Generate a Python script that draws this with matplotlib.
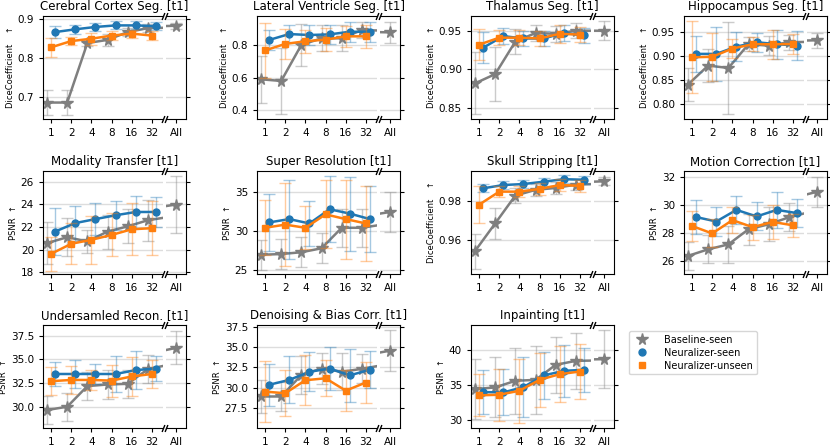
#Few-shot results figure: baseline vs neuralizer on several tasks
import matplotlib
matplotlib.use('Agg')
import matplotlib.pyplot as plt
from matplotlib.lines import Line2D
import numpy as np

shots = [1, 2, 4, 8, 16, 32]
shot_labels = ['1', '2', '4', '8', '16', '32']
n_all = 1024  # nominal size used for the "All" column

# each *_base list has the 6 shot values + the "All" value at the end
# Cerebral Cortex Seg.
cc_base = [0.686, 0.686, 0.838, 0.846, 0.866, 0.876, 0.882]
cc_base_err = [0.032, 0.031, 0.008, 0.015, 0.01, 0.01, 0.008]
cc_seen = [0.866, 0.873, 0.879, 0.883, 0.883, 0.881]
cc_seen_err = [0.015, 0.012, 0.01, 0.01, 0.01, 0.01]
cc_unseen = [0.827, 0.843, 0.849, 0.857, 0.862, 0.857]
cc_unseen_err = [0.025, 0.01, 0.015, 0.012, 0.01, 0.012]

# Lateral Ventricle Seg.
lv_base = [0.59, 0.58, 0.80, 0.84, 0.84, 0.89, 0.876]
lv_base_err = [0.143, 0.20, 0.126, 0.08, 0.08, 0.05, 0.063]
lv_seen = [0.83, 0.866, 0.86, 0.864, 0.88, 0.88]
lv_seen_err = [0.06, 0.056, 0.06, 0.06, 0.06, 0.06]
lv_unseen = [0.766, 0.806, 0.822, 0.832, 0.852, 0.852]
lv_unseen_err = [0.167, 0.09, 0.07, 0.07, 0.065, 0.07]

# Thalamus Seg.
th_base = [0.882, 0.894, 0.936, 0.947, 0.946, 0.95, 0.95]
th_base_err = [0.04, 0.035, 0.016, 0.01, 0.01, 0.01, 0.012]
th_seen = [0.928, 0.943, 0.940, 0.940, 0.947, 0.944]
th_seen_err = [0.02, 0.01, 0.01, 0.01, 0.01, 0.01]
th_unseen = [0.932, 0.941, 0.941, 0.940, 0.946, 0.945]
th_unseen_err = [0.02, 0.01, 0.01, 0.01, 0.012, 0.01]

# Hippocampus Seg.
hc_base = [0.841, 0.880, 0.875, 0.924, 0.921, 0.928, 0.932]
hc_base_err = [0.033, 0.034, 0.095, 0.015, 0.02, 0.015, 0.015]
hc_seen = [0.904, 0.904, 0.919, 0.928, 0.924, 0.921]
hc_seen_err = [0.037, 0.055, 0.03, 0.02, 0.03, 0.03]
hc_unseen = [0.897, 0.898, 0.915, 0.924, 0.924, 0.924]
hc_unseen_err = [0.074, 0.05, 0.02, 0.015, 0.03, 0.02]

# Modality Transfer
mt_base = [20.58, 21.1, 20.73, 21.6, 22.06, 22.6, 23.99]
mt_base_err = [1.85, 1.7, 1.0, 1.5, 1.5, 1.8, 2.55]
mt_seen = [21.6, 22.35, 22.7, 23.04, 23.33, 23.33]
mt_seen_err = [2.1, 1.55, 1.4, 1.3, 1.4, 1.35]
mt_unseen = [19.63, 20.52, 20.87, 21.3, 21.8, 21.9]
mt_unseen_err = [1.5, 1.8, 2.1, 1.9, 2.3, 2.4]

# Super Resolution
sr_base = [26.98, 27.07, 27.3, 27.8, 30.4, 30.4, 32.4]
sr_base_err = [1.9, 1.9, 1.9, 1.9, 2.4, 2.4, 2.5]
sr_seen = [31.08, 31.5, 30.95, 32.75, 32.2, 31.5]
sr_seen_err = [3.6, 5.0, 2.8, 4.2, 4.7, 4.2]
sr_unseen = [30.4, 30.8, 30.4, 32.1, 31.5, 30.95]
sr_unseen_err = [3.5, 5.3, 2.7, 4.3, 5.0, 4.75]

# Skull Stripping
ss_base = [0.9545, 0.9687, 0.983, 0.9859, 0.9869, 0.9886, 0.9903]
ss_base_err = [0.009, 0.008, 0.004, 0.003, 0.003, 0.003, 0.002]
ss_seen = [0.9867, 0.9884, 0.9889, 0.9901, 0.9914, 0.9911]
ss_seen_err = [0.002, 0.002, 0.002, 0.002, 0.002, 0.002]
ss_unseen = [0.9783, 0.985, 0.985, 0.9864, 0.9884, 0.988]
ss_unseen_err = [0.0095, 0.003, 0.003, 0.003, 0.003, 0.003]

# Motion Correction
mc_base = [26.35, 26.82, 27.17, 28.25, 28.6, 29.1, 30.92]
mc_base_err = [1.0, 1.0, 1.3, 1.1, 1.2, 1.0, 1.05]
mc_seen = [29.12, 28.8, 29.63, 29.16, 29.63, 29.4]
mc_seen_err = [1.2, 1.0, 1.0, 1.0, 1.3, 1.0]
mc_unseen = [28.48, 27.95, 28.9, 28.4, 28.77, 28.53]
mc_unseen_err = [1.1, 1.0, 0.9, 0.9, 1.2, 0.8]

# Undersampled Recon.
ur_base = [29.65, 30.0, 32.18, 32.35, 32.42, 33.97, 36.22]
ur_base_err = [1.5, 1.5, 1.5, 1.5, 1.5, 1.5, 1.75]
ur_seen = [33.46, 33.46, 33.46, 33.46, 33.87, 34.04]
ur_seen_err = [1.3, 1.5, 1.1, 1.9, 2.0, 1.3]
ur_unseen = [32.7, 32.83, 32.83, 32.76, 33.2, 33.46]
ur_unseen_err = [1.5, 1.5, 1.1, 1.7, 2.1, 1.5]

# Denoising & Bias Corr.
db_base = [28.9, 28.9, 31.54, 32.34, 31.94, 32.3, 34.54]
db_base_err = [2.0, 1.8, 2.3, 1.9, 2.3, 1.8, 2.5]
db_seen = [30.34, 30.94, 31.94, 32.34, 31.5, 32.2]
db_seen_err = [2.6, 2.9, 2.4, 2.7, 3.3, 2.3]
db_unseen = [29.5, 29.3, 30.9, 31.14, 29.62, 30.62]
db_unseen_err = [3.75, 2.8, 3.1, 2.2, 2.5, 2.5]

# Inpainting
ip_base = [34.38, 34.62, 35.57, 35.7, 37.86, 38.43, 38.67]
ip_base_err = [4.3, 4.3, 4.7, 4.9, 4.0, 4.0, 4.2]
ip_seen = [33.95, 33.9, 34.67, 36.33, 37.0, 37.14]
ip_seen_err = [3.1, 3.3, 4.3, 3.3, 3.7, 3.2]
ip_unseen = [33.48, 33.57, 34.14, 35.71, 36.52, 36.9]
ip_unseen_err = [3.0, 3.7, 4.6, 3.9, 4.0, 3.9]

DICE = 'DiceCoefficient    \u2191'
PSNR = 'PSNR  \u2191'

panels = [
    ('Cerebral Cortex Seg. [t1]', DICE, cc_base, cc_base_err, cc_seen, cc_seen_err, cc_unseen, cc_unseen_err, (0.644, 0.907), [0.7, 0.8, 0.9]),
    ('Lateral Ventricle Seg. [t1]', DICE, lv_base, lv_base_err, lv_seen, lv_seen_err, lv_unseen, lv_unseen_err, (0.348, 0.976), [0.4, 0.6, 0.8]),
    ('Thalamus Seg. [t1]', DICE, th_base, th_base_err, th_seen, th_seen_err, th_unseen, th_unseen_err, (0.836, 0.969), [0.85, 0.90, 0.95]),
    ('Hippocampus Seg. [t1]', DICE, hc_base, hc_base_err, hc_seen, hc_seen_err, hc_unseen, hc_unseen_err, (0.770, 0.982), [0.80, 0.85, 0.90, 0.95]),
    ('Modality Transfer [t1]', PSNR, mt_base, mt_base_err, mt_seen, mt_seen_err, mt_unseen, mt_unseen_err, (17.85, 26.95), [18, 20, 22, 24, 26]),
    ('Super Resolution [t1]', PSNR, sr_base, sr_base_err, sr_seen, sr_seen_err, sr_unseen, sr_unseen_err, (24.54, 37.6), [25, 30, 35]),
    ('Skull Stripping [t1]', DICE, ss_base, ss_base_err, ss_seen, ss_seen_err, ss_unseen, ss_unseen_err, (0.9427, 0.9956), [0.96, 0.98]),
    ('Motion Correction [t1]', PSNR, mc_base, mc_base_err, mc_seen, mc_seen_err, mc_unseen, mc_unseen_err, (25.06, 32.4), [26, 28, 30, 32]),
    ('Undersamled Recon. [t1]', PSNR, ur_base, ur_base_err, ur_seen, ur_seen_err, ur_unseen, ur_unseen_err, (27.75, 38.64), [30.0, 32.5, 35.0, 37.5]),
    ('Denoising & Bias Corr. [t1]', PSNR, db_base, db_base_err, db_seen, db_seen_err, db_unseen, db_unseen_err, (25.02, 37.7), [27.5, 30.0, 32.5, 35.0, 37.5]),
    ('Inpainting [t1]', PSNR, ip_base, ip_base_err, ip_seen, ip_seen_err, ip_unseen, ip_unseen_err, (28.8, 43.57), [30, 35, 40]),
]

C_BASE = 'tab:gray'
C_SEEN = 'tab:blue'
C_UNSEEN = 'tab:orange'

W, H = 830, 446
fig = plt.figure(figsize=(W / 100, H / 100), dpi=100)

# layout in pixels
col_left = [43, 257, 471, 684]
row_top = [16, 171, 325]
main_w, gap, all_w, ax_h = 120, 3, 20, 103


def box(l, t, w, h):
    return [l / W, 1 - (t + h) / H, w / W, h / H]


def series(ax, x, y, yerr, color, marker, ms):
    ax.errorbar(x, y, yerr=yerr, fmt='none', ecolor=color, alpha=0.4,
                capsize=4, elinewidth=1, capthick=1)
    ax.plot(x, y, color=color, marker=marker, ms=ms, lw=1.8)


xs = np.log2(shots)
x_all = np.log2(n_all)

for i, (title, ylabel, base, base_err, seen, seen_err, unseen, unseen_err, ylim, yticks) in enumerate(panels):
    row, col = divmod(i, 4)
    left, top = col_left[col], row_top[row]
    ax = fig.add_axes(box(left, top, main_w, ax_h))
    ax2 = fig.add_axes(box(left + main_w + gap, top, all_w, ax_h))

    bx = np.append(xs, x_all) - 0.2
    for a in (ax, ax2):
        a.set_axisbelow(True)
        a.yaxis.grid(True, color='#dddddd', lw=1)
        series(a, bx, base, base_err, C_BASE, '*', 8.5)
        a.set_ylim(ylim)
        a.set_yticks(yticks)
    series(ax, xs + 0.2, seen, seen_err, C_SEEN, 'o', 5)
    series(ax, xs, unseen, unseen_err, C_UNSEEN, 's', 5)

    ax.set_xlim(-0.4, 5.55)
    ax.set_xticks(xs)
    ax.set_xticklabels(shot_labels)
    ax.spines['right'].set_visible(False)
    ax.tick_params(labelsize=7.5, length=3)
    ax.set_ylabel(ylabel, fontsize=6, labelpad=2)

    ax2.set_xlim(x_all - 0.2 - 0.5, x_all - 0.2 + 0.5)
    ax2.set_xticks([x_all - 0.2])
    ax2.set_xticklabels(['All'])
    ax2.spines['left'].set_visible(False)
    ax2.tick_params(labelsize=7.5, length=3, left=False, labelleft=False, right=True)

    # break marks
    d = 0.4
    kw = dict(marker=[(-d, -1), (d, 1)], markersize=5, linestyle='none',
              color='k', mec='k', mew=1, clip_on=False)
    ax.plot([1, 1], [0, 1], transform=ax.transAxes, **kw)
    ax2.plot([0, 0], [0, 1], transform=ax2.transAxes, **kw)

    fig.text((left + (main_w + gap + all_w) / 2) / W, 1 - (top - 3) / H, title,
             ha='center', va='bottom', fontsize=8.5)

handles = [
    Line2D([], [], color=C_BASE, marker='*', ls='none', ms=8.5),
    Line2D([], [], color=C_SEEN, marker='o', ls='none', ms=5),
    Line2D([], [], color=C_UNSEEN, marker='s', ls='none', ms=5),
]
fig.legend(handles, ['Baseline-seen', 'Neuralizer-seen', 'Neuralizer-unseen'],
           loc='upper left', bbox_to_anchor=(624 / W, 1 - 326 / H), fontsize=7,
           handletextpad=1.2, borderpad=0.4, labelspacing=0.3)

fig.savefig('out.png', dpi=100)
